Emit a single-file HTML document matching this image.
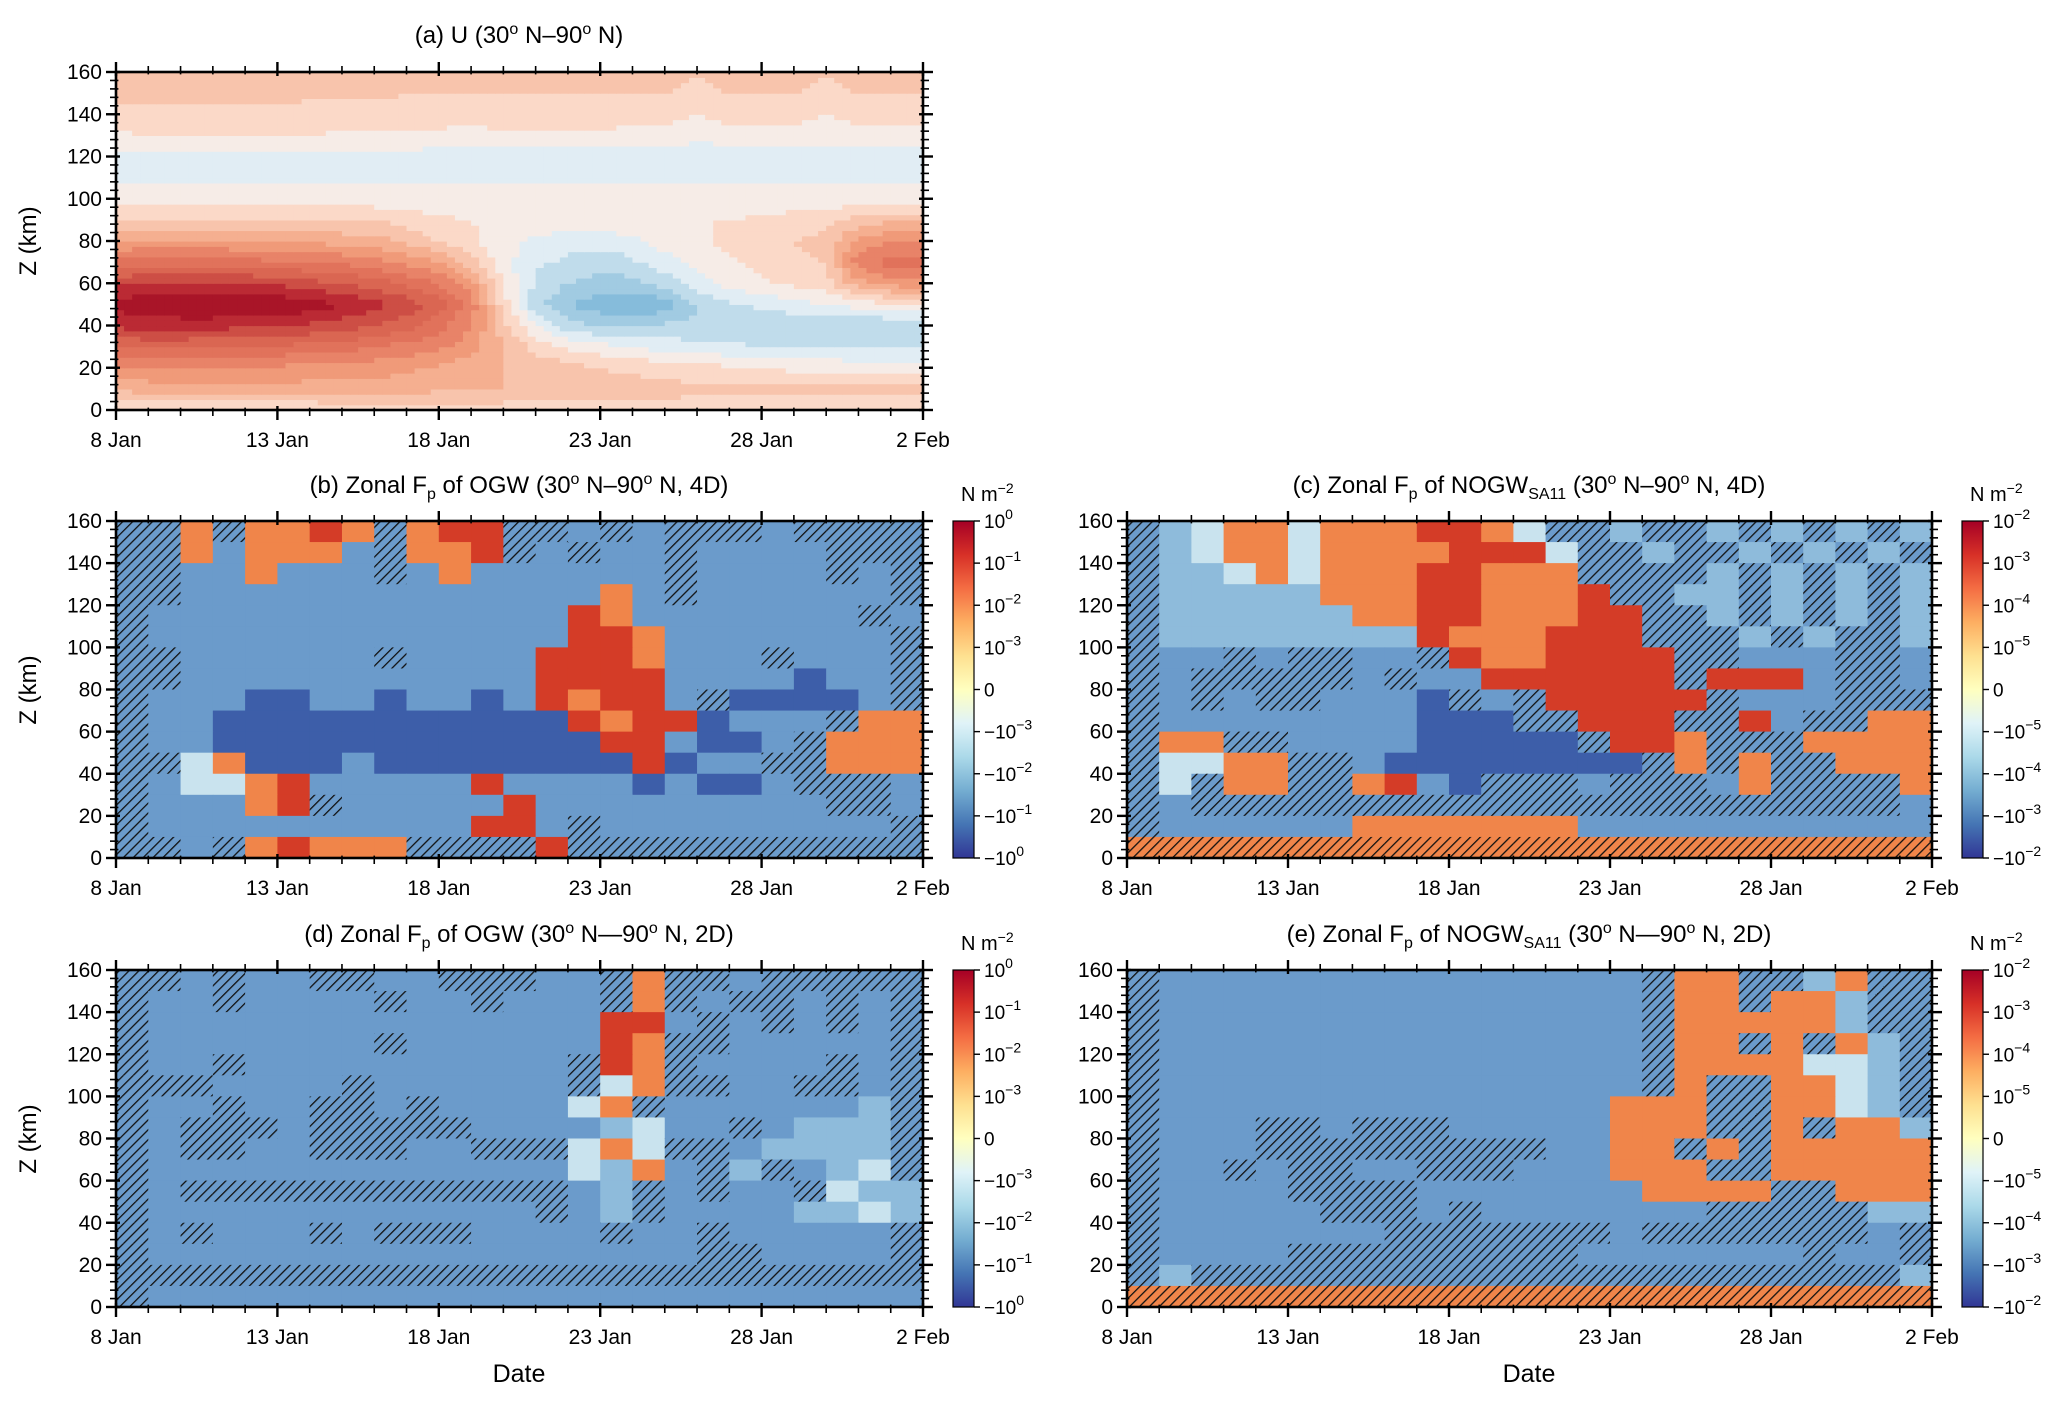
<!DOCTYPE html>
<html><head><meta charset="utf-8">
<style>
html,body{margin:0;padding:0;background:#fff;}
svg{display:block;font-family:"Liberation Sans","DejaVu Sans",sans-serif;}
</style></head>
<body>
<svg id="fig" width="2067" height="1406" viewBox="0 0 2067 1406" xmlns="http://www.w3.org/2000/svg">
<defs>
<pattern id="hatch" patternUnits="userSpaceOnUse" width="7" height="7" patternTransform="rotate(45)">
<rect width="7" height="7" fill="none"/>
<line x1="0" y1="0" x2="0" y2="7" stroke="#111" stroke-width="2.6"/>
</pattern>
<linearGradient id="cbgrad" x1="0" y1="1" x2="0" y2="0">
<stop offset="0" stop-color="#313695"/><stop offset="0.1" stop-color="#4575b4"/>
<stop offset="0.2" stop-color="#74add1"/><stop offset="0.3" stop-color="#abd9e9"/>
<stop offset="0.4" stop-color="#e0f3f8"/><stop offset="0.5" stop-color="#ffffbf"/>
<stop offset="0.6" stop-color="#fee090"/><stop offset="0.7" stop-color="#fdae61"/>
<stop offset="0.8" stop-color="#f46d43"/><stop offset="0.9" stop-color="#d73027"/>
<stop offset="1" stop-color="#a50026"/>
</linearGradient>
</defs>
</svg>
<script>
// ---------- data ----------
const xTickLabels = ["8 Jan","13 Jan","18 Jan","23 Jan","28 Jan","2 Feb"];
const xTickDays = [0,5,10,15,20,25];
const yTickLabels = ["0","20","40","60","80","100","120","140","160"];
const yTickValues = [0,20,40,60,80,100,120,140,160];
const cbLabelsOGW = [["10","0"],["10","−1"],["10","−2"],["10","−3"],["0",""],["−10","−3"],["−10","−2"],["−10","−1"],["−10","0"]];
const cbLabelsNOGW = [["10","−2"],["10","−3"],["10","−4"],["10","−5"],["0",""],["−10","−5"],["−10","−4"],["−10","−3"],["−10","−2"]];

// Panel (a) zonal wind U (m/s), rows z=0..160 step 10, cols day 0..25
const uZ0   = [5,5,5,5,5,5,5,6,6,7,7,7,7,7,7,7,7,7,8,8,8,8,8,8,8,8];
const uZ10  = [16,17,18,18,18,18,18,18,18,17,16,15,15,14,13,12,12,12,11,11,11,11,11,11,11,11];
const uZ20  = [24,25,25,25,24,24,23,23,22,21,19,17,15,14,12,10,9,8,7,6,5,4,4,3,3,3];
const uZ30  = [36,36,36,35,35,34,33,32,30,28,26,22,16,8,4,2,0,-2,-3,-4,-5,-5,-6,-6,-6,-6];
const uZ40  = [46,47,47,47,46,45,44,42,40,37,32,25,12,0,-8,-10,-10,-9,-9,-9,-9,-9,-9,-10,-10,-10];
const uZ50  = [52,54,55,55,55,54,53,50,47,43,37,28,8,-8,-15,-18,-20,-18,-10,-6,-4,-2,0,2,4,5];
const uZ60  = [44,45,46,46,45,44,42,40,38,34,30,22,4,-6,-10,-12,-12,-8,-2,2,4,6,8,18,22,24];
const uZ70  = [32,33,33,33,32,31,30,29,27,24,20,12,2,-4,-6,-8,-6,-2,2,4,6,8,10,28,32,33];
const uZ80  = [20,21,21,21,20,20,19,18,17,14,10,6,2,-2,-3,-3,-2,2,4,6,8,10,12,22,25,25];
const uZ90  = [10,11,11,11,10,10,10,10,10,8,6,5,4,4,4,4,4,5,5,5,6,7,8,12,14,14];
const uZ100 = [2,2,2,2,2,2,2,2,2,2,2,2,2,2,2,2,2,2,2,2,2,2,2,2,2,2];
const uZ110 = [-1,-1,-1,-1,-1,-1,-1,-1,-1,-1,-1,-1,-1,-1,-1,-1,-1,-1,-1,-1,-1,-1,-1,-1,-1,-1];
const uZ120 = [-2,-2,-2,-2,-2,-2,-2,-2,-2,-2,-3,-3,-3,-3,-3,-3,-3,-3,-4,-4,-3,-3,-3,-3,-3,-3];
const uZ130 = [4,5,5,5,5,5,5,4,4,4,4,3,4,4,4,4,3,3,2,3,3,3,2,3,3,3];
const uZ140 = [9,9,9,9,9,9,8,8,8,8,7,7,8,8,8,8,7,7,5,7,7,7,5,7,7,7];
const uZ150 = [11,11,11,11,11,11,11,11,11,10,10,10,10,10,10,10,10,10,9,10,10,10,9,10,10,10];
const uZ160 = [12,12,12,12,12,12,12,12,12,11,11,11,11,11,11,11,11,11,10,11,11,11,10,11,11,11];
const uRows = [uZ0,uZ10,uZ20,uZ30,uZ40,uZ50,uZ60,uZ70,uZ80,uZ90,uZ100,uZ110,uZ120,uZ130,uZ140,uZ150,uZ160];

// Flux panels: category per (10 km layer, day). rows top (150-160) to bottom (0-10).
const fluxB = ["hhohoorohorrhhbhbhhhbhhhh","hhobooobhoorhbhbbhbbbbhhh","hhbbobbbhbobbbbbbhbbbbhbh","hhbbbbbbbbbbbbbobhbbbbbbh",
"hbbbbbbbbbbbbbrobbbbbbbhb","hbbbbbbbbbbbbbrrobbbbbbbh","hhbbbbbbhbbbbrrrobbbhbbbh","hhbbbbbbbbbbbrrrrbbbbBbbh",
"hbbbBBbbBbbBbrorrbhBBBBbh","hbbBBBBBBBBBBBrorrBbbbhoo","hbbBBBBBBBBBBBBrrbBBbhooo","hhloBBBbBBBBBBBBrBbbhhooo",
"hbllorbbbbbrbbbbBbBBbhhhb","hbbborhbbbbbrbbbbbbbbbhhb","hbbbbbbbbbbrrbhbbbbbbbbbh","hhbhorooohhhhrhhhhhhhhhhh"];
const fluxC = ["hmloolooorrolhhmhhmhmhmhm","hmlooloooorrrlhhmhhmhmhmh","hmmlolooorrooohhhhmhmhmhm","hmmmmmooorrooorhhmmhmhmhm",
"hmmmmmmoorrooorrhhmhmhmhm","hmmmmmmmmrooorrrhhhmhmhhm","hbbhbhhbbhroorrrrhhbbbhhb","hbhhhhhbhbbrrrrrrhrrrbhhb",
"hbhbhhbbbBhbhrrrrrhbbbhhh","hbbbbbbbbBBBhhrrrhhrbhhoo","hoohhbbbbBBBBBhrrohhhoooo","hlloohhbBBBBBBBBhohohhooo",
"hlhoohhorbBhhhbhhhbohhhho","hbhhhhhhhhhhhhhhhhhhhhhhb","hbbbbbbooooooobbbbbbbbbbb","xxxxxxxxxxxxxxxxxxxxxxxxx"];
const fluxD = ["hhbhbbhhbbhhhbbhohhbhhhhh","hbbhbbbbhbbhbbbhohbhhbhbh","hbbbbbbbbbbbbbbrrbhbhbhbh","hbbbbbbbhbbbbbbrohhbbbbbh",
"hbbhbbbbbbbbbbhrohbbbbhbh","hhhbbbbhbbbbbbhlohhbbhhbh","hbbhbbhhbhbbbblohbbbbbbmh","hbhhhbhhhhhbbbbmlbbhbmmmh",
"hbhhbbhhhbbhhhlolhhbmmmmh","hbbbbbbbbbbbbblmobhmhbmlh","hbhhhhhhhhhhhhbmhbhbbhlmm","hbbbbbbbbbbbbhbmhbbbbmmlm",
"hbhbbbhbhhhbbbbhbbhbbbbbh","hbbbbbbbbbbbbbbbbbhhbbbbh","hhhhhhhhhhhhhhhhhhhhhhhhh","hbbbbbbbbbbbbbbbbbbbbbbbb"];
const fluxE = ["hbbbbbbbbbbbbbbbhoohhmohh","hbbbbbbbbbbbbbbbhoohoomhh","hbbbbbbbbbbbbbbbhooooomhh","hbbbbbbbbbbbbbbbhoohohomh",
"hbbbbbbbbbbbbbbbhoooollmh","hbbbbbbbbbbbbbbbhohhoolmh","hbbbbbbbbbbbbbbooohhoolmh","hbbbhhbhhhbbbbbooohhohoom",
"hbbbhhhhhhhhhbboohohooooo","hbbhbhhbbhhhbbbooohhooooo","hbbbbhhhhbbbbbbboooohhooo","hbbbbbhhhbhbbbbbbbhhhhhmm",
"hbbbbbbbhhhhhhhbhhhhhhhbh","hbbbbhhhhhhhhhbbbbbbbhbbh","hmhhhhhhhhhhhhhhhhhhhhhhm","xxxxxxxxxxxxxxxxxxxxxxxxx"];

// ---------- drawing ----------
const NS = "http://www.w3.org/2000/svg";
const fig = document.getElementById('fig');
function el(tag, attrs, parent){
  const e = document.createElementNS(NS, tag);
  for (const k in attrs) e.setAttribute(k, attrs[k]);
  (parent||fig).appendChild(e);
  return e;
}
const DAYS = 25, ZMAX = 160;
function makeAxes(x0,y0,w,h){
  return { x: d => x0 + d/DAYS*w, y: z => y0 + h - z/ZMAX*h, x0, y0, w, h };
}
const catColor = {B:"#3d5ea9",b:"#6b9bcb",m:"#8ebbdb",l:"#c9e3ee",o:"#f0854a",r:"#d43c27",h:"#6b9bcb",x:"#f0854a"};
const bgColor = {b:"#6b9bcb",c:"#8ebbdb",d:"#6f9fcd",e:"#6b9bcb"};

function uColor(v){
  const stops = [[-25,[67,147,195]],[-20,[120,180,215]],[-10,[175,210,230]],[-5,[209,229,240]],[0,[240,244,247]],
    [5,[252,228,214]],[10,[249,206,186]],[20,[244,165,130]],[30,[228,120,95]],[40,[214,96,77]],[50,[178,24,43]],[60,[140,10,30]]];
  const q = Math.floor(v/5)*5 + 2.5;
  if (q<=stops[0][0]) return 'rgb('+stops[0][1]+')';
  for (let i=1;i<stops.length;i++){
    if (q<=stops[i][0]){
      const t=(q-stops[i-1][0])/(stops[i][0]-stops[i-1][0]);
      const c=stops[i-1][1].map((a,j)=>Math.round(a+(stops[i][1][j]-a)*t));
      return 'rgb('+c+')';
    }
  }
  return 'rgb('+stops[stops.length-1][1]+')';
}

function drawFrame(ax, name){
  const g = el('g',{});
  
  
  for (let d=0; d<=DAYS; d++){
    const X = ax.x(d), major = (d%5===0);
    const L = major?10:6;
    el('line',{x1:X,y1:ax.y0+ax.h-L*0.4,x2:X,y2:ax.y0+ax.h+L,stroke:"#000","stroke-width":major?2.4:1.6},g);
    el('line',{x1:X,y1:ax.y0+L*0.4,x2:X,y2:ax.y0-L,stroke:"#000","stroke-width":major?2.4:1.6},g);
  }
  for (let z=0; z<=ZMAX; z+=4){
    const Y = ax.y(z), major = (z%20===0);
    const L = major?10:6;
    el('line',{x1:ax.x0-L,y1:Y,x2:ax.x0+L*0.4,y2:Y,stroke:"#000","stroke-width":major?2.4:1.6},g);
    el('line',{x1:ax.x0+ax.w-L*0.4,y1:Y,x2:ax.x0+ax.w+L,y2:Y,stroke:"#000","stroke-width":major?2.4:1.6},g);
  }
  el('rect',{x:ax.x0,y:ax.y0,width:ax.w,height:ax.h,fill:"none",stroke:"#000","stroke-width":2.6},g);
  yTickValues.forEach((v,i)=>{
    const t = el('text',{x:ax.x0-14,y:ax.y(v)+7,"text-anchor":"end","font-size":21,fill:"#000"},g);
    t.textContent = yTickLabels[i];
    
    
  });
  xTickDays.forEach((d,i)=>{
    const t = el('text',{x:ax.x(d),y:ax.y0+ax.h+37,"text-anchor":"middle","font-size":21,fill:"#000"},g);
    t.textContent = xTickLabels[i];
    
    
  });
}

function title(x,y,parts,name){
  const t = el('text',{x:x,y:y,"text-anchor":"middle","font-size":24,fill:"#000"});
  
  
  let cur = 0;
  parts.forEach(p=>{
    const target = p[1]==='sup' ? -9 : (p[1]==='sub' ? 6 : 0);
    const s = el('tspan',{dy:(target-cur),"font-size":(p[1]?16:24)},t);
    cur = target;
    s.textContent = p[0];
  });
  return t;
}

function ylabel(x,cy){
  const t = el('text',{x:0,y:0,transform:`translate(${x},${cy}) rotate(-90)`,"text-anchor":"middle","font-size":24,fill:"#000"});
  t.textContent = "Z (km)";
  
  
}

function drawFlux(ax, rows, name, bg){
  const g = el('g',{});
  
  
  el('rect',{x:ax.x0,y:ax.y0,width:ax.w,height:ax.h,fill:bg},g);
  const nr = rows.length;
  rows.forEach((row,ri)=>{
    const zTop = ZMAX - ri*(ZMAX/nr), zBot = zTop - ZMAX/nr;
    for (let d=0; d<DAYS; d++){
      const c = row[d] || row[row.length-1];
      const X0 = ax.x(d), X1 = ax.x(d+1), Y0 = ax.y(zTop), Y1 = ax.y(zBot);
      const cell = el('rect',{x:X0,y:Y0,width:X1-X0+0.5,height:Y1-Y0+0.5,fill:catColor[c]},g);
      
      
      if (c==='h'||c==='x'){
        el('rect',{x:X0,y:Y0,width:X1-X0+0.5,height:Y1-Y0+0.5,fill:"url(#hatch)"},g);
      }
    }
  });
}

function drawU(ax){
  const g = el('g',{});
  
  
  const sub = 4;
  const nz = uRows.length;
  for (let zi=0; zi<(nz-1)*sub; zi++){
    const zf = (zi+0.5)/sub;
    const z0 = Math.floor(zf), tz = zf - z0;
    for (let di=0; di<DAYS*sub; di++){
      const df = (di+0.5)/sub;
      const d0 = Math.floor(df), td = df-d0, d1 = Math.min(d0+1,DAYS);
      const v = (uRows[z0][d0]*(1-td)+uRows[z0][d1]*td)*(1-tz) + (uRows[z0+1][d0]*(1-td)+uRows[z0+1][d1]*td)*tz;
      const X0 = ax.x(di/sub), X1 = ax.x((di+1)/sub);
      const Y0 = ax.y((zi+1)/sub*10), Y1 = ax.y(zi/sub*10);
      el('rect',{x:X0,y:Y0,width:X1-X0+0.6,height:Y1-Y0+0.6,fill:uColor(v)},g);
    }
  }
}

function colorbar(x,y0,h,labels,name){
  const g = el('g',{});
  
  
  el('rect',{x:x,y:y0,width:21,height:h,fill:"url(#cbgrad)",stroke:"#000","stroke-width":1.2},g);
  labels.forEach((lb,i)=>{
    const Y = y0 + i*h/8;
    el('line',{x1:x+21,y1:Y,x2:x+27,y2:Y,stroke:"#000","stroke-width":1.4},g);
    const t = el('text',{x:x+31,y:Y+7,"font-size":19,fill:"#000"},g);
    const a = el('tspan',{},t); a.textContent = lb[0];
    if (lb[1]){ const b = el('tspan',{dy:-9,"font-size":14},t); b.textContent = lb[1]; }
    
    
  });
  const u = el('text',{x:x+8,y:y0-20,"font-size":20,fill:"#000"},g);
  const u1 = el('tspan',{},u); u1.textContent = "N m";
  const u2 = el('tspan',{dy:-8,"font-size":14},u); u2.textContent = "−2";
  
  
}

const axA = makeAxes(116,72,807,338);
const axB = makeAxes(116,521,807,337);
const axC = makeAxes(1127,521,805,337);
const axD = makeAxes(116,970,807,337);
const axE = makeAxes(1127,970,805,337);

drawU(axA);
drawFrame(axA,'panel-a');
drawFlux(axB, fluxB, 'panel-b', bgColor.b); drawFrame(axB,'panel-b');
drawFlux(axC, fluxC, 'panel-c', bgColor.c); drawFrame(axC,'panel-c');
drawFlux(axD, fluxD, 'panel-d', bgColor.d); drawFrame(axD,'panel-d');
drawFlux(axE, fluxE, 'panel-e', bgColor.e); drawFrame(axE,'panel-e');

colorbar(953,521,337,cbLabelsOGW,'colorbar-b');
colorbar(1962,521,337,cbLabelsNOGW,'colorbar-c');
colorbar(953,970,337,cbLabelsOGW,'colorbar-d');
colorbar(1962,970,337,cbLabelsNOGW,'colorbar-e');

title(519,43,[["(a) U (30"],["o","sup"],[" N–90"],["o","sup"],[" N)"]],'title-a');
title(519,493,[["(b) Zonal F"],["p","sub"],[" of OGW (30"],["o","sup"],[" N–90"],["o","sup"],[" N, 4D)"]],'title-b');
title(1529,493,[["(c) Zonal F"],["p","sub"],[" of NOGW"],["SA11","sub"],[" (30"],["o","sup"],[" N–90"],["o","sup"],[" N, 4D)"]],'title-c');
title(519,942,[["(d) Zonal F"],["p","sub"],[" of OGW (30"],["o","sup"],[" N—90"],["o","sup"],[" N, 2D)"]],'title-d');
title(1529,942,[["(e) Zonal F"],["p","sub"],[" of NOGW"],["SA11","sub"],[" (30"],["o","sup"],[" N—90"],["o","sup"],[" N, 2D)"]],'title-e');

ylabel(36,241); ylabel(36,690); ylabel(36,1139);
[[519,'x-axis-title-d'],[1529,'x-axis-title-e']].forEach(p=>{
  const t = el('text',{x:p[0],y:1382,"text-anchor":"middle","font-size":25,fill:"#000"});
  t.textContent = "Date";
  
  
});
</script>
</body></html>
